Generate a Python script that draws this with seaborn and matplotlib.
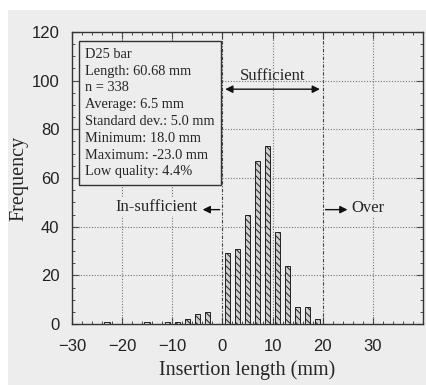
import matplotlib
matplotlib.use("Agg")
import matplotlib.pyplot as plt
import seaborn as sns
import numpy as np
import pandas as pd
from matplotlib.patches import Rectangle

# ---- data ----
bin_centers = [-23, -15, -11, -9, -7, -5, -3, 1, 3, 5, 7, 9, 11, 13, 15, 17, 19]
frequency   = [1, 1, 1, 1, 2, 4, 5, 29, 31, 45, 67, 73, 38, 24, 7, 7, 2]
x_ticks = [-30, -20, -10, 0, 10, 20, 30]
y_ticks = [0, 20, 40, 60, 80, 100, 120]
info_lines = ["D25 bar", "Length: 60.68 mm", "n = 338", "Average: 6.5 mm",
              "Standard dev.: 5.0 mm", "Minimum: 18.0 mm", "Maximum: -23.0 mm",
              "Low quality: 4.4%"]

sns.set_style("ticks")
plt.rcParams['hatch.linewidth'] = 0.7
bg = "#ededed"

fig = plt.figure(figsize=(4.27, 3.85), dpi=100, facecolor="white")
fig.patches.append(Rectangle((8/427, 0), 1, 375/385, transform=fig.transFigure,
                             facecolor=bg, edgecolor="none", zorder=-10))
ax = fig.add_axes([72/427, 1 - 324/385, (423-72)/427, (324-32)/385])
ax.set_facecolor(bg)

df = pd.DataFrame({"x": bin_centers, "y": frequency})
sns.barplot(data=df, x="x", y="y", native_scale=True, width=0.55,
            color="#cfcfcf", edgecolor="#222222", linewidth=0.7,
            hatch="\\\\\\\\\\", ax=ax, zorder=3)
for p in ax.patches:
    p.set_facecolor("#cfcfcf")
    p.set_hatch("\\\\\\\\\\")
    p.set_edgecolor("#222222")

ax.set_xlim(-30, 40)
ax.set_ylim(0, 120)
ax.set_xticks(x_ticks)
ax.set_yticks(y_ticks)
ax.set_xticklabels(["\u221230", "\u221220", "\u221210", "0", "10", "20", "30"])
ax.xaxis.set_minor_locator(matplotlib.ticker.MultipleLocator(2))
ax.yaxis.set_minor_locator(matplotlib.ticker.MultipleLocator(5))
ax.tick_params(which="both", direction="in", top=True, right=True, color="#333333")
ax.tick_params(which="major", length=5, labelsize=12)
ax.tick_params(axis="x", which="major", pad=11)
ax.tick_params(axis="y", which="major", pad=9)
ax.tick_params(which="minor", length=2.5)
for lab in ax.get_xticklabels() + ax.get_yticklabels():
    lab.set_family("Liberation Sans")
    lab.set_color("#222222")

for v in [-20, -10, 10, 30]:
    ax.axvline(v, color="#777777", lw=0.8, ls=(0, (1, 1.5)), zorder=1)
for v in [0, 20]:
    ax.axvline(v, color="#444444", lw=0.8, ls=(0, (3, 1.5, 1, 1.5)), zorder=1)
for v in [20, 40, 60, 80, 100]:
    ax.axhline(v, color="#777777", lw=0.8, ls=(0, (1, 1.5)), zorder=1)

for s in ax.spines.values():
    s.set_color("#333333")
    s.set_linewidth(1.0)

ax.set_xlabel("Insertion length (mm)", family="Liberation Serif", fontsize=14.5, labelpad=4)
ax.set_ylabel("Frequency", family="Liberation Serif", fontsize=14.5, labelpad=2)

ax.text(-27.4, 113.5, "\n".join(info_lines), family="Liberation Serif", fontsize=10.4,
        va="top", ha="left", linespacing=1.38, zorder=5,
        bbox=dict(boxstyle="square,pad=0.45", facecolor=bg, edgecolor="#333333", lw=1.0))

ax.text(10, 102, "Sufficient", family="Liberation Serif", fontsize=12, ha="center", va="center", zorder=5)
ax.annotate("", xy=(0, 96.5), xytext=(20, 96.5),
            arrowprops=dict(arrowstyle="<|-|>", color="#111111", lw=1.0, mutation_scale=11), zorder=5)
ax.annotate("", xy=(-4.5, 47), xytext=(0, 47),
            arrowprops=dict(arrowstyle="-|>", color="#111111", lw=1.0, mutation_scale=11), zorder=5)
ax.text(-5.0, 48, "In-sufficient", family="Liberation Serif", fontsize=12, ha="right", va="center", zorder=5,
        bbox=dict(boxstyle="square,pad=0.05", facecolor=bg, edgecolor="none"))
ax.annotate("", xy=(25.5, 47), xytext=(20, 47),
            arrowprops=dict(arrowstyle="-|>", color="#111111", lw=1.0, mutation_scale=11), zorder=5)
ax.text(25.7, 47.5, "Over", family="Liberation Serif", fontsize=12, ha="left", va="center", zorder=5,
        bbox=dict(boxstyle="square,pad=0.05", facecolor=bg, edgecolor="none"))

fig.savefig("out.png", dpi=100, facecolor=fig.get_facecolor())
